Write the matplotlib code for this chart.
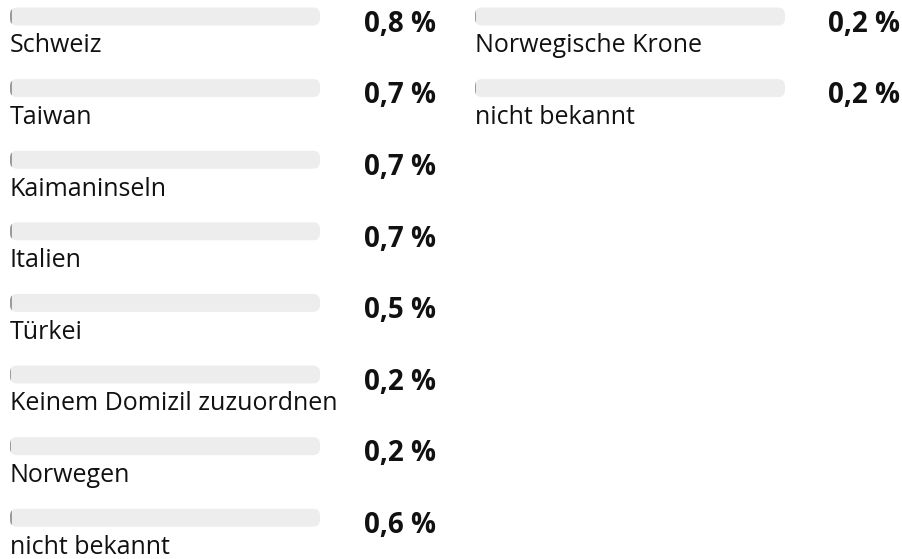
import matplotlib.pyplot as plt
from matplotlib.patches import FancyBboxPatch

# share of the portfolio per domicile / currency, in percent
left_labels = ["Schweiz", "Taiwan", "Kaimaninseln", "Italien", "Türkei",
               "Keinem Domizil zuzuordnen", "Norwegen", "nicht bekannt"]
left_values = [0.8, 0.7, 0.7, 0.7, 0.5, 0.2, 0.2, 0.6]

right_labels = ["Norwegische Krone", "nicht bekannt"]
right_values = [0.2, 0.2]

W, H = 903, 559
ROW = 71.6          # px between rows
TOP = 16.5          # px centre of first bar
BAR_H = 18          # px
TRACK_W = 310       # px
RADIUS = 7          # px

plt.rcParams['font.family'] = ['Open Sans', 'DejaVu Sans']

fig = plt.figure(figsize=(W / 100, H / 100), dpi=100)


def column(x0, value_right, labels, values):
    ax = fig.add_axes([x0 / W, 0, TRACK_W / W, 1])
    ax.set_xlim(0, 100)
    ax.set_ylim((H - TOP) / ROW, -TOP / ROW)
    ax.axis('off')
    px_x = TRACK_W / 100
    aspect = (1 / ROW) / (1 / px_x)
    h = BAR_H / ROW
    for i, (lab, v) in enumerate(zip(labels, values)):
        track = FancyBboxPatch((0, i - h / 2), 100, h,
                               boxstyle=f"round,pad=0,rounding_size={RADIUS / px_x}",
                               mutation_aspect=aspect, facecolor='#ededed',
                               edgecolor='none')
        ax.add_patch(track)
        bars = ax.barh(i, v, height=h, left=0, color='#9a9a9a')
        for b in bars:
            b.set_clip_path(track)
        ax.text(0, i + 0.41, lab, ha='left', va='center', fontsize=18,
                color='#111111')
        ax.text((value_right - x0) / px_x, i + 0.11,
                f"{v:.1f}".replace('.', ',') + " %", ha='right', va='center',
                fontsize=20, fontweight='bold', color='#111111', clip_on=False)
    return ax


column(10, 436, left_labels, left_values)
column(475, 900, right_labels, right_values)

fig.savefig('out.png', dpi=100)
